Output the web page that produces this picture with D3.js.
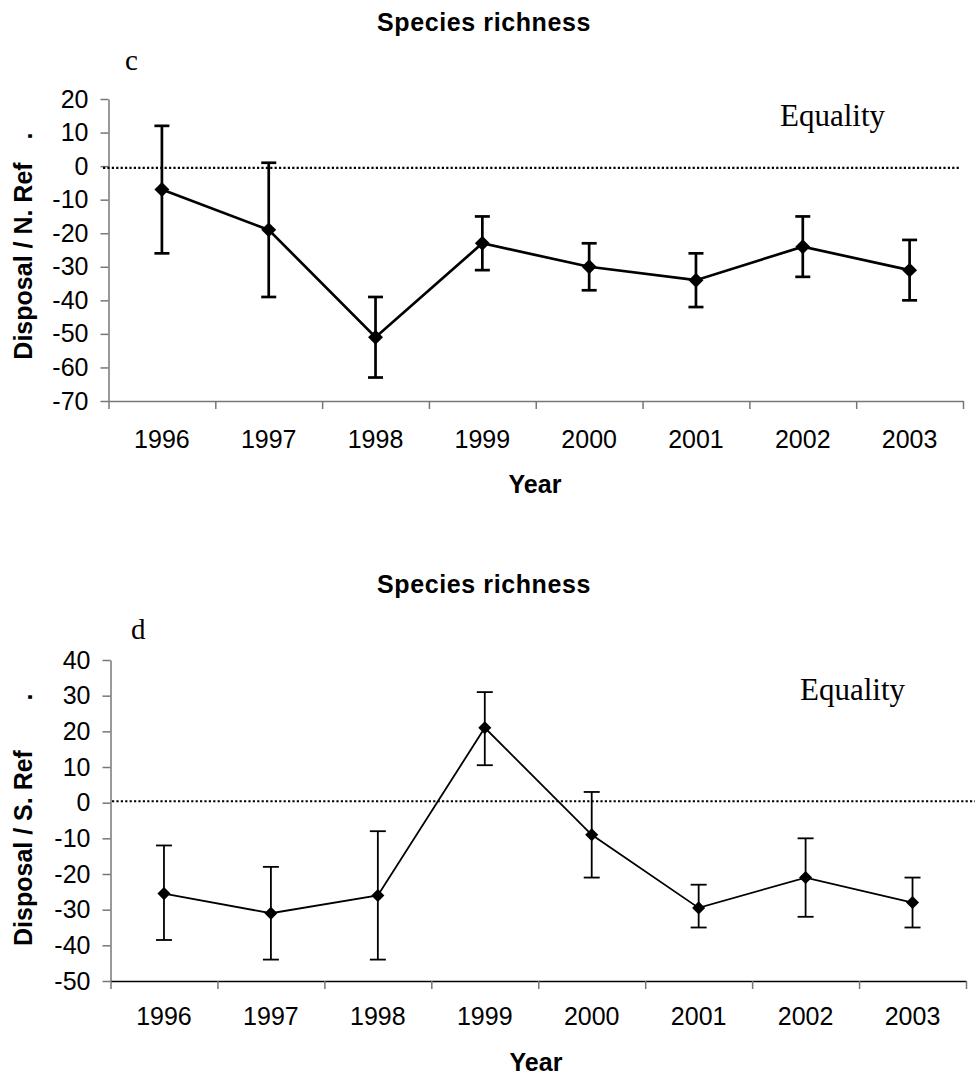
<!doctype html>
<html>
<head>
<meta charset="utf-8">
<script src="https://d3js.org/d3.v7.min.js"></script>
<style>
  body { margin: 0; background: #fff; }
  text { font-family: "Liberation Sans", Arial, sans-serif; fill: #000; }
</style>
</head>
<body>
<svg width="975" height="1077"></svg>
<script>
// years on the x axis
var years = ["1996", "1997", "1998", "1999", "2000", "2001", "2002", "2003"];

// panel c : Disposal / N. Ref
var meanC  = [-7, -19, -51, -23, -30, -34, -24, -31];
var upperC = [12, 1, -39, -15, -23, -26, -15, -22];
var lowerC = [-26, -39, -63, -31, -37, -42, -33, -40];
var yTicksC = [20, 10, 0, -10, -20, -30, -40, -50, -60, -70];
var equalityC = -0.5;

// panel d : Disposal / S. Ref
var meanD  = [-25.5, -31, -26, 21, -9, -29.5, -21, -28];
var upperD = [-12, -18, -8, 31, 3, -23, -10, -21];
var lowerD = [-38.5, -44, -44, 10.5, -21, -35, -32, -35];
var yTicksD = [40, 30, 20, 10, 0, -10, -20, -30, -40, -50];
var equalityD = 0.4;

var svg = d3.select("svg");

function drawPanel(p) {
    var g = svg.append("g");

    var x = d3.scaleBand().domain(years).range([p.left, p.right]).paddingInner(0).paddingOuter(0);
    var xEdge = d3.scaleLinear().domain([0, years.length]).range([p.left, p.right]);
    var y = d3.scaleLinear().domain([p.yTicks[p.yTicks.length - 1], p.yTicks[0]]).range([p.bottom, p.top]);

    // title
    g.append("text")
        .attr("x", 484).attr("y", p.titleY)
        .attr("text-anchor", "middle")
        .style("font-size", "25px").style("font-weight", "bold")
        .style("letter-spacing", "0.6px")
        .text("Species richness");

    // panel letter
    g.append("text")
        .attr("x", p.letterX).attr("y", p.letterY)
        .style("font-family", "'Liberation Serif', 'Times New Roman', serif")
        .style("font-size", "29px")
        .text(p.letter);

    // Equality label
    g.append("text")
        .attr("x", p.eqX).attr("y", p.eqY)
        .style("font-family", "'Liberation Serif', 'Times New Roman', serif")
        .style("font-size", "31px")
        .text("Equality");

    // y axis
    var yAxis = g.append("g")
        .attr("transform", "translate(" + p.left + ",0)")
        .call(d3.axisLeft(y).tickValues(p.yTicks).tickSize(8).tickPadding(12).tickSizeOuter(0)
            .tickFormat(function (d) { return String(d); }));
    yAxis.select(".domain").attr("stroke", "#777").attr("stroke-width", 1.5);
    yAxis.selectAll(".tick line").attr("stroke", "#777").attr("stroke-width", 1.5);
    yAxis.selectAll(".tick text").style("font-size", "25px").attr("font-family", null);

    // x axis: ticks at category edges
    var xTicks = g.append("g")
        .attr("transform", "translate(0," + p.bottom + ")")
        .call(d3.axisBottom(xEdge).tickValues(d3.range(years.length + 1)).tickSize(8).tickSizeOuter(0).tickFormat(""));
    xTicks.select(".domain").attr("stroke", p.xAxisColor).attr("stroke-width", 1.5);
    xTicks.selectAll(".tick line").attr("stroke", "#777").attr("stroke-width", 1.5);

    // x axis labels centred in each category
    var xLabels = g.append("g")
        .attr("transform", "translate(0," + p.bottom + ")")
        .call(d3.axisBottom(x).tickSize(0).tickPadding(p.xLabelPad));
    xLabels.select(".domain").remove();
    xLabels.selectAll(".tick text").style("font-size", "25px").attr("font-family", null);

    // y axis title
    g.append("text")
        .attr("transform", "translate(32," + p.yLabelY + ")rotate(-90)")
        .attr("text-anchor", "middle")
        .style("font-size", "25px").style("font-weight", "bold")
        .text(p.yLabel);
    g.append("text")
        .attr("transform", "translate(32," + p.dotY + ")rotate(-90)")
        .attr("text-anchor", "middle")
        .style("font-size", "25px").style("font-weight", "bold")
        .text(".");

    // x axis title
    g.append("text")
        .attr("x", p.yearX).attr("y", p.yearY)
        .attr("text-anchor", "middle")
        .style("font-size", "25px").style("font-weight", "bold")
        .text("Year");

    // equality line
    g.append("line")
        .attr("x1", p.eqLineX1).attr("x2", p.eqLineX2)
        .attr("y1", y(p.equality)).attr("y2", y(p.equality))
        .attr("stroke", "#000").attr("stroke-width", 2.2)
        .attr("stroke-dasharray", "2.2,2.2");

    var cx = function (d, i) { return x(years[i]) + x.bandwidth() / 2; };

    // error bars
    var bars = g.append("g").attr("stroke", "#000").attr("stroke-width", p.lineW);
    bars.selectAll(".err")
        .data(p.mean)
        .enter()
        .append("line")
        .attr("x1", cx).attr("x2", cx)
        .attr("y1", function (d, i) { return y(p.upper[i]); })
        .attr("y2", function (d, i) { return y(p.lower[i]); });
    bars.selectAll(".capU")
        .data(p.upper)
        .enter()
        .append("line")
        .attr("x1", function (d, i) { return cx(d, i) - p.cap / 2; })
        .attr("x2", function (d, i) { return cx(d, i) + p.cap / 2; })
        .attr("y1", function (d) { return y(d); })
        .attr("y2", function (d) { return y(d); });
    bars.selectAll(".capL")
        .data(p.lower)
        .enter()
        .append("line")
        .attr("x1", function (d, i) { return cx(d, i) - p.cap / 2; })
        .attr("x2", function (d, i) { return cx(d, i) + p.cap / 2; })
        .attr("y1", function (d) { return y(d); })
        .attr("y2", function (d) { return y(d); });

    // series line
    var line = d3.line()
        .x(function (d, i) { return cx(d, i); })
        .y(function (d) { return y(d); });
    g.append("path")
        .datum(p.mean)
        .attr("d", line)
        .style("fill", "none")
        .style("stroke", "#000")
        .style("stroke-width", p.lineW);

    // diamond markers
    g.append("g")
        .selectAll("path")
        .data(p.mean)
        .enter()
        .append("path")
        .attr("d", d3.symbol().type(d3.symbolSquare).size(p.markerSize))
        .attr("transform", function (d, i) { return "translate(" + cx(d, i) + "," + y(d) + ")rotate(45)"; })
        .style("fill", "#000");
}

drawPanel({
    mean: meanC, upper: upperC, lower: lowerC, yTicks: yTicksC, equality: equalityC,
    left: 108.5, right: 963, top: 99, bottom: 401,
    titleY: 31, letter: "c", letterX: 125, letterY: 70,
    eqX: 780, eqY: 126, yLabel: "Disposal / N. Ref", yLabelY: 261, dotY: 136,
    yearX: 535, yearY: 493, xLabelPad: 29, xAxisColor: "#777",
    eqLineX1: 103, eqLineX2: 960, lineW: 2.7, cap: 15, markerSize: 112
});

drawPanel({
    mean: meanD, upper: upperD, lower: lowerD, yTicks: yTicksD, equality: equalityD,
    left: 110.5, right: 966, top: 660, bottom: 981,
    titleY: 593, letter: "d", letterX: 131, letterY: 639,
    eqX: 800, eqY: 700, yLabel: "Disposal / S. Ref", yLabelY: 848, dotY: 697,
    yearX: 536, yearY: 1071, xLabelPad: 26, xAxisColor: "#000",
    eqLineX1: 112, eqLineX2: 975, lineW: 1.8, cap: 16, markerSize: 85
});
</script>
</body>
</html>
